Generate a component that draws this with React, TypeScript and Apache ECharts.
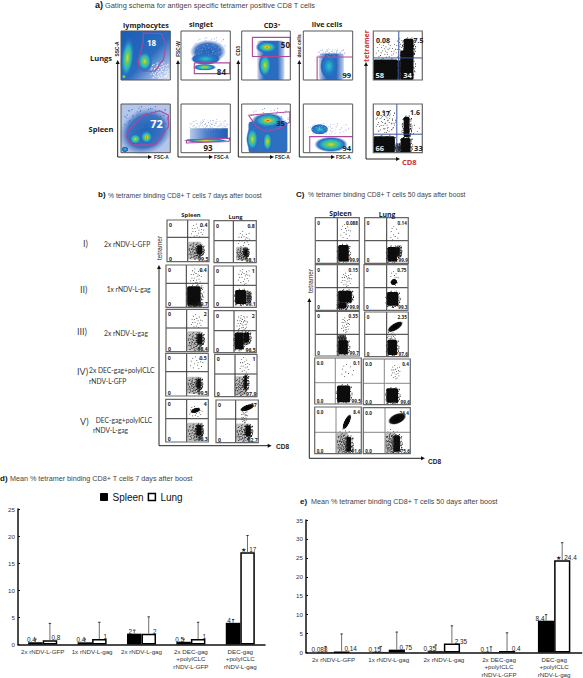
import React, { useEffect, useRef } from "react";
import * as echarts from "echarts";

// ---------- bar chart data ----------
const categories = ["2x rNDV-L-GFP", "1x rNDV-L-gag", "2x rNDV-L-gag", "2x DEC-gag\n+polyICLC\nrNDV-L-GFP", "DEC-gag\n+polyICLC\nrNDV-L-gag"];
const spleen7 = [0.4, 0.4, 2, 0.5, 4];
const lung7 = [0.8, 1, 2, 1, 17];
const spleen7Top = [1.0, 1.0, 2.65, 1.0, 4.6];
const lung7Top = [3.9, 4.1, 5.1, 4.1, 20.1];
const spleen50 = [0.088, 0.15, 0.35, 0.1, 8.4];
const lung50 = [0.14, 0.75, 2.35, 0.4, 24.4];
const spleen50Top = [1.6, 1.6, 2.0, 1.5, 10];
const lung50Top = [4.9, 5.4, 7.05, 5.2, 29];

// ---------- flow plot labels ----------
const b7SpleenTR = ["0.4", "0.4", "2", "0.5", "4"];
const b7SpleenBR = ["99.5", "99.7", "98.4", "99.5", "96.3"];
const b7LungTR = ["0.8", "1", "2", "1", "17"];
const b7LungBR = ["98.1", "99.1", "96.5", "97.9", "82.7"];
const c50SpleenTR = ["0.088", "0.15", "0.35", "0.1", "8.4"];
const c50SpleenBR = ["99.9", "99.9", "99.7", "99.5", "91.6"];
const c50LungTR = ["0.14", "0.75", "2.35", "0.4", "24.4"];
const c50LungBR = ["99.9", "99.3", "97.6", "99.6", "75.6"];

// hand-placed speckle offsets for the sparse parts of dot plots
const SPECKLE = [
  [-0.8, -0.3], [-0.5, 0.7], [-0.2, -0.9], [0.1, 0.3], [0.4, -0.6], [0.7, 0.5], [0.9, -0.1], [-0.9, 0.4],
  [-0.6, -0.7], [-0.3, 0.1], [0, -0.4], [0.3, 0.8], [0.6, -0.2], [0.2, -0.1], [-0.1, 0.6], [0.5, 0.2],
  [-0.4, -0.3], [-0.7, 0.1], [0.8, -0.7], [0.05, 0.9], [-0.25, -0.55], [0.35, -0.25], [0.15, 0.55], [-0.45, 0.35],
  [0.55, 0.65], [-0.15, -0.15], [0.25, -0.75], [-0.65, 0.8], [0.75, 0.15], [-0.05, 0.15],
];

const SANS = "Liberation Sans";
const OPEN = "Open Sans";
const LATO = "Lato";
const MAG = "#b0479a";

const G: any[] = [];

function T(text: string, x: number, y: number, o: any = {}) {
  G.push({
    type: "text", x, y, rotation: o.rot || 0, z: 50, silent: true,
    style: {
      text, fontSize: o.size || 6.5, fontFamily: o.font || SANS, fontWeight: o.weight || "normal",
      fill: o.fill || "#444", textAlign: o.align || "left", textVerticalAlign: "middle", verticalAlign: "middle",
    },
  });
}
function line(pts: number[][], stroke = "#222", w = 1, z = 20) {
  G.push({ type: "polyline", z, silent: true, shape: { points: pts }, style: { stroke, lineWidth: w, fill: "none" } });
}
function arrowAxes(x: number, yTop: number, yBot: number, xEnd: number, w = 1) {
  line([[x, yTop + 3], [x, yBot], [xEnd - 3, yBot]], "#222", w);
  G.push({ type: "polygon", z: 21, silent: true, shape: { points: [[x, yTop], [x - 2, yTop + 4], [x + 2, yTop + 4]] }, style: { fill: "#111" } });
  G.push({ type: "polygon", z: 21, silent: true, shape: { points: [[xEnd, yBot], [xEnd - 4, yBot - 2], [xEnd - 4, yBot + 2]] }, style: { fill: "#111" } });
}
function frame(b: number[], stroke = "#555", w = 1) {
  G.push({ type: "rect", z: 30, silent: true, shape: { x: b[0], y: b[1], width: b[2] - b[0], height: b[3] - b[1] }, style: { stroke, lineWidth: w, fill: "none" } });
}
const JET = [
  { offset: 0, color: "#e4261c" }, { offset: 0.12, color: "#f6c522" }, { offset: 0.28, color: "#74c94a" },
  { offset: 0.48, color: "#27b9c6" }, { offset: 0.75, color: "#2a6cc0" }, { offset: 1, color: "rgba(42,108,192,0)" },
];
const GREEN = [
  { offset: 0, color: "#d9d83a" }, { offset: 0.25, color: "#6fca50" }, { offset: 0.5, color: "#27b9c6" },
  { offset: 0.78, color: "#2a6cc0" }, { offset: 1, color: "rgba(42,108,192,0)" },
];
const CYAN = [
  { offset: 0, color: "#35c3c8" }, { offset: 0.5, color: "#1f80c6" }, { offset: 0.85, color: "#2a66bc" }, { offset: 1, color: "rgba(42,108,192,0)" },
];
const BLUE = [
  { offset: 0, color: "#1e62b6" }, { offset: 0.7, color: "#3f74c2" }, { offset: 1, color: "rgba(110,140,210,0)" },
];
function blob(b: number[], cx: number, cy: number, rx: number, ry: number, stops: any[], rot = 0) {
  const W = b[2] - b[0], H = b[3] - b[1];
  const x = b[0] + cx * W, y = b[1] + cy * H;
  G.push({
    type: "ellipse", z: 10, silent: true, x, y, rotation: rot,
    shape: { cx: 0, cy: 0, rx: rx * W, ry: ry * H },
    style: { fill: { type: "radial", x: 0.5, y: 0.5, r: 0.5, colorStops: stops } },
  });
}
function fillRect(b: number[], x0: number, y0: number, x1: number, y1: number, fill: any, r = 0, z = 9, opacity = 1) {
  const W = b[2] - b[0], H = b[3] - b[1];
  G.push({
    type: "rect", z, silent: true,
    shape: { x: b[0] + x0 * W, y: b[1] + y0 * H, width: (x1 - x0) * W, height: (y1 - y0) * H, r },
    style: { fill, opacity },
  });
}
function gate(b: number[], pts: number[][], closed = true) {
  const W = b[2] - b[0], H = b[3] - b[1];
  const p = pts.map((q) => [b[0] + q[0] * W, b[1] + q[1] * H]);
  if (closed) p.push(p[0]);
  line(p, MAG, 1.1, 25);
}
function lab(b: number[], text: string, fx: number, fy: number, size = 8, fill = "#222") {
  const W = b[2] - b[0], H = b[3] - b[1];
  T(text, b[0] + fx * W, b[1] + fy * H, { size, fill, weight: "bold", font: OPEN, align: "center" });
}
const SPECKLE_ALL = [
  ...SPECKLE,
  ...SPECKLE.map((d) => [d[1], d[0]]),
  ...SPECKLE.map((d) => [-d[0] * 0.93, d[1] * 0.87]),
];
function speckle(b: number[], cx: number, cy: number, sx: number, sy: number, n = 30, col = "#222", s = 0.8) {
  const W = b[2] - b[0], H = b[3] - b[1];
  SPECKLE_ALL.slice(0, n).forEach((d) => {
    const fx = cx + d[0] * sx, fy = cy + d[1] * sy;
    if (fx < 0.01 || fx > 0.98 || fy < 0.01 || fy > 0.98) return;
    G.push({
      type: "rect", z: 12, silent: true,
      shape: { x: b[0] + fx * W, y: b[1] + fy * H, width: s, height: s },
      style: { fill: col },
    });
  });
}
type Layer = any[];
function dotPlot(b: number[], vx: number, hy: number, tl: string, tr: string, bl: string, br: string, layers: Layer[], gridCol = "#333", fs = 5.2) {
  G.push({ type: "rect", z: 1, silent: true, shape: { x: b[0], y: b[1], width: b[2] - b[0], height: b[3] - b[1] }, style: { fill: "#fff" } });
  layers.forEach((l) => {
    const k = l[0];
    if (k === "s") {
      fillRect(b, l[1], l[2], l[3], l[4], "#b0b0b0", 1.5, 9, 0.8);
      speckle(b, (l[1] + l[3]) / 2, (l[2] + l[4]) / 2, (l[3] - l[1]) / 2, (l[4] - l[2]) / 2, 90, "#1a1a1a", 0.8);
    }
    if (k === "d") {
      fillRect(b, l[1], l[2], l[3], l[4], "#0c0c0c", 1.5, 11);
      speckle(b, (l[1] + l[3]) / 2, (l[2] + l[4]) / 2, (l[3] - l[1]) / 2 + 0.05, (l[4] - l[2]) / 2 + 0.05, 90, "#111", 0.9);
    }
    if (k === "e") blob(b, l[1], l[2], l[3], l[4], [{ offset: 0, color: "#000" }, { offset: 0.8, color: "#111" }, { offset: 1, color: "rgba(40,40,40,0.2)" }], l[5] || 0);
    if (k === "c") speckle(b, l[1], l[2], l[3], l[4], l[5] || 30);
  });
  line([[vx, b[1]], [vx, b[3]]], gridCol, 1, 28);
  line([[b[0], hy], [b[2], hy]], gridCol, 1, 28);
  frame(b, "#666", 1.2);
  T(tl, b[0] + 2, b[1] + 5, { size: fs, weight: "bold", fill: "#222", font: OPEN });
  T(bl, b[0] + 2, b[3] - 3, { size: fs, weight: "bold", fill: "#222", font: OPEN });
  T(tr, b[2] - 1.5, b[1] + 5, { size: fs, weight: "bold", fill: "#222", font: OPEN, align: "right" });
  T(br, b[2] - 0.5, b[3] - 3, { size: fs, weight: "bold", fill: "#222", font: OPEN, align: "right" });
}

// ---------- panel a ----------
function panelA() {
  T("a)", 95, 5, { size: 9, weight: "bold", fill: "#111" });
  T("Gating schema for antigen specific tetramer positive CD8 T cells", 105, 5, { size: 7.4 });
  const heads: [string, number, number][] = [["lymphocytes", 146, 25], ["singlet", 201, 24], ["live cells", 327, 24]];
  heads.forEach((h) => T(h[0], h[1], h[2], { size: 7.2, weight: "bold", font: OPEN, align: "center", fill: "#222" }));
  T("CD3⁺", 272, 25, { size: 7.2, weight: "bold", font: OPEN, align: "center", fill: "#222" });
  T("Lungs", 101, 58, { size: 7.5, weight: "bold", font: OPEN, align: "center", fill: "#222" });
  T("Spleen", 101, 129, { size: 7.5, weight: "bold", font: OPEN, align: "center", fill: "#222" });

  const y1 = [31, 80], y2 = [104, 152.7];
  const A1 = [121, y1[0], 170.3, y1[1]], A2 = [121, y2[0], 170.3, y2[1]];
  const B1 = [181, y1[0], 230.3, y1[1]], B2 = [181, y2[0], 230.3, y2[1]];
  const C1 = [241.7, y1[0], 290.3, y1[1]], C2 = [241.7, y2[0], 290.3, y2[1]];
  const D1 = [303.3, y1[0], 352.7, y1[1]], D2 = [303.3, y2[0], 352.7, y2[1]];
  const E1 = [373.3, y1[0], 422.3, y1[1]], E2 = [373.3, y2[0], 422.3, y2[1]];

  // lymphocytes
  fillRect(A1, 0, 0, 1, 1, { type: "linear", x: 0, y: 0, x2: 1, y2: 1, colorStops: [{ offset: 0, color: "#1a5cb3" }, { offset: 0.55, color: "#2a6cc0" }, { offset: 0.78, color: "#8fabdf" }, { offset: 1, color: "#eef2fa" }] });
  blob(A1, 0.13, 0.55, 0.14, 0.44, GREEN, -0.1);
  blob(A1, 0.48, 0.62, 0.16, 0.22, GREEN);
  blob(A1, 0.06, 0.93, 0.05, 0.06, JET);
  speckle(A1, 0.78, 0.8, 0.2, 0.18, 90, "#ffffff", 0.9);
  gate(A1, [[0.45, 0.04], [0.82, 0.05], [0.91, 0.28], [0.86, 0.58], [0.69, 0.82], [0.38, 0.82], [0.35, 0.62], [0.45, 0.24]]);
  lab(A1, "18", 0.62, 0.23, 8, "#fff");

  fillRect(A2, 0, 0, 1, 1, "#b4c6ea");
  speckle(A2, 0.5, 0.3, 0.48, 0.28, 90, "#3f6fc4", 1);
  blob(A2, 0.5, 0.56, 0.56, 0.46, BLUE, 0.5);
  blob(A2, 0.52, 0.68, 0.14, 0.15, JET);
  blob(A2, 0.29, 0.72, 0.13, 0.12, GREEN);
  blob(A2, 0.08, 0.93, 0.07, 0.06, CYAN);
  gate(A2, [[0.15, 0.54], [0.45, 0.23], [0.79, 0.14], [0.96, 0.23], [0.96, 0.47], [0.69, 0.84], [0.22, 0.84], [0.11, 0.67]]);
  lab(A2, "72", 0.72, 0.4, 11, "#fff");

  // singlet
  blob(B1, 0.55, 0.42, 0.37, 0.24, BLUE);
  blob(B1, 0.5, 0.57, 0.3, 0.12, CYAN);
  blob(B1, 0.48, 0.74, 0.24, 0.07, JET);
  speckle(B1, 0.58, 0.3, 0.34, 0.2, 60, "#8aa4dc", 0.8);
  gate(B1, [[0.27, 0.65], [0.99, 0.65], [0.99, 0.87], [0.27, 0.87]]);
  lab(B1, "84", 0.82, 0.82, 8);

  fillRect(B2, 0.18, 0.5, 0.95, 0.72, { type: "linear", x: 0, y: 0, x2: 1, y2: 0, colorStops: [{ offset: 0, color: "#b9c9ec" }, { offset: 0.45, color: "#4c7cc9" }, { offset: 1, color: "#1d5eb5" }] });
  speckle(B2, 0.55, 0.42, 0.42, 0.12, 90, "#8ca7de", 0.8);
  blob(B2, 0.5, 0.75, 0.46, 0.04, GREEN);
  gate(B2, [[0.11, 0.74], [0.99, 0.7], [0.97, 0.77], [0.11, 0.8]]);
  lab(B2, "93", 0.55, 0.9, 8);

  // CD3
  fillRect(C1, 0.32, 0.2, 0.88, 1, { type: "linear", x: 0, y: 0, x2: 1, y2: 0, colorStops: [{ offset: 0, color: "rgba(60,100,190,0.25)" }, { offset: 0.25, color: "#2a6cc0" }, { offset: 0.75, color: "#2a6cc0" }, { offset: 1, color: "rgba(60,100,190,0.25)" }] }, 3);
  blob(C1, 0.52, 0.33, 0.24, 0.13, JET);
  blob(C1, 0.48, 0.7, 0.14, 0.26, GREEN);
  gate(C1, [[0.22, 0.13], [1, 0.13], [1, 0.52], [0.22, 0.52]]);
  lab(C1, "50", 0.9, 0.28, 8);

  fillRect(C2, 0.14, 0.36, 0.94, 1, "#2f6fc2", 3);
  speckle(C2, 0.55, 0.3, 0.44, 0.24, 60, "#5c82cc", 0.8);
  blob(C2, 0.54, 0.34, 0.34, 0.16, JET);
  blob(C2, 0.22, 0.72, 0.13, 0.26, GREEN);
  blob(C2, 0.53, 0.77, 0.11, 0.23, JET.slice(1).map((s, i) => ({ offset: i === 0 ? 0 : s.offset, color: s.color })));
  gate(C2, [[0.14, 0.23], [0.99, 0.16], [0.99, 0.37], [0.78, 0.5], [0.51, 0.57], [0.31, 0.47]]);
  lab(C2, "35", 0.8, 0.4, 7.5);

  // live cells
  fillRect(D1, 0.32, 0.46, 0.82, 1, { type: "linear", x: 0, y: 0, x2: 1, y2: 0, colorStops: [{ offset: 0, color: "rgba(60,100,190,0.3)" }, { offset: 0.3, color: "#2a6cc0" }, { offset: 0.7, color: "#2a6cc0" }, { offset: 1, color: "rgba(60,100,190,0.3)" }] }, 3);
  blob(D1, 0.52, 0.72, 0.18, 0.27, CYAN);
  speckle(D1, 0.56, 0.45, 0.3, 0.1, 60, "#8aa4dc", 0.8);
  gate(D1, [[0.28, 1], [0.28, 0.53], [1, 0.53]], false);
  lab(D1, "99", 0.88, 0.9, 7.5);

  speckle(D2, 0.5, 0.5, 0.45, 0.12, 60, "#a8bae4", 0.8);
  blob(D2, 0.33, 0.52, 0.18, 0.11, CYAN);
  blob(D2, 0.56, 0.83, 0.34, 0.16, GREEN);
  gate(D2, [[0.13, 1], [0.13, 0.67], [1, 0.67]], false);
  lab(D2, "94", 0.88, 0.9, 7.5);

  [A1, A2, B1, B2, C1, C2, D1, D2].forEach((b) => frame(b));

  // tetramer
  dotPlot(E1, 373.3 + 0.52 * 49, 31 + 0.55 * 49, "", "", "", "", [
    ["d", 0, 0.58, 0.5, 1], ["d", 0.55, 0.4, 0.82, 1], ["d", 0.62, 0.16, 0.82, 0.5], ["d", 0.5, 0.6, 0.55, 1],
    ["c", 0.25, 0.38, 0.22, 0.16], ["c", 0.55, 0.35, 0.1, 0.22],
  ], "#3a55a0");
  lab(E1, "0.08", 0.2, 0.2, 7);
  lab(E1, "7.5", 0.92, 0.19, 7);
  lab(E1, "58", 0.13, 0.9, 7.5, "#eee");
  lab(E1, "34", 0.7, 0.9, 7.5, "#eee");

  dotPlot(E2, 373.3 + 0.48 * 49, 104 + 0.62 * 48.7, "", "", "", "", [
    ["d", 0, 0.66, 0.44, 1], ["d", 0.56, 0.7, 0.76, 1], ["d", 0.62, 0.26, 0.74, 0.68], ["s", 0.44, 0.8, 0.58, 1],
    ["c", 0.25, 0.35, 0.22, 0.25, 60], ["c", 0.75, 0.5, 0.2, 0.12, 12],
  ], "#3a55a0");
  lab(E2, "0.17", 0.2, 0.2, 7);
  lab(E2, "1.6", 0.85, 0.17, 7);
  lab(E2, "66", 0.13, 0.9, 7.5, "#eee");
  lab(E2, "33", 0.92, 0.9, 7.5);

  arrowAxes(117.7, 60, 157, 152);
  arrowAxes(178, 60, 157, 213);
  arrowAxes(238.3, 60, 157, 274);
  arrowAxes(299.3, 60, 157, 335);
  arrowAxes(366, 62, 159, 400);
  ([[154, "FSC-A"], [214, "FSC-A"], [275, "FSC-A"], [336, "FSC-A"]] as [number, string][]).forEach((f) =>
    T(f[1], f[0], 157, { size: 4.8, weight: "bold", fill: "#222" }));
  T("SSC-A", 117.5, 49, { size: 4.8, weight: "bold", fill: "#222", rot: Math.PI / 2, align: "center" });
  T("FSC-W", 178, 49, { size: 4.8, weight: "bold", fill: "#222", rot: Math.PI / 2, align: "center" });
  T("CD3", 238.5, 51, { size: 4.8, weight: "bold", fill: "#222", rot: Math.PI / 2, align: "center" });
  T("dead cells", 299.5, 46, { size: 4.8, weight: "bold", fill: "#222", rot: Math.PI / 2, align: "center" });
  T("tetramer", 366, 46, { size: 7, weight: "bold", fill: "#d0312d", font: OPEN, rot: Math.PI / 2, align: "center" });
  T("CD8", 402, 162, { size: 7.5, weight: "bold", fill: "#d0312d", font: OPEN });
}

// ---------- panel b ----------
function panelB() {
  T("b)", 98, 194, { size: 8, weight: "bold", fill: "#111" });
  T("% tetramer binding CD8+ T cells 7 days after boost", 108, 195, { size: 6.8 });
  T("Spleen", 191, 215, { size: 5.8, weight: "bold", font: OPEN, align: "center", fill: "#222" });
  T("Lung", 235.5, 217, { size: 5.8, weight: "bold", font: OPEN, align: "center", fill: "#222" });
  const spleenBoxes = [
    [167, 220, 209, 261.7, 187.7, 237.3], [166, 265, 208.3, 307.3, 186.3, 283.3], [166, 309.3, 208.3, 351.7, 186.7, 328],
    [165.7, 353.3, 208.3, 396, 186.7, 371.7], [165.7, 399.3, 208.3, 442, 186.7, 418.7],
  ];
  const lungBoxes = [
    [214, 220.7, 256.3, 262.7, 233.3, 240.7], [214, 266, 256.3, 307.3, 233.3, 285.3], [214, 310.7, 256.3, 352.7, 234, 330.7],
    [214.7, 354.3, 257, 396.7, 235, 374], [216, 400, 258.3, 442.7, 235.7, 419],
  ];
  const spleenLayers: Layer[][] = [
    [["s", 0.5, 0.52, 0.82, 0.95], ["d", 0.72, 0.62, 0.84, 0.82], ["c", 0.72, 0.25, 0.16, 0.18, 18]],
    [["d", 0.5, 0.5, 0.82, 0.95], ["s", 0.5, 0.9, 0.85, 1], ["c", 0.7, 0.28, 0.14, 0.22, 24], ["c", 0.85, 0.65, 0.04, 0.2, 12]],
    [["s", 0.5, 0.52, 0.85, 0.98], ["d", 0.74, 0.58, 0.86, 0.82], ["c", 0.72, 0.28, 0.14, 0.18, 18]],
    [["s", 0.5, 0.55, 0.82, 0.95], ["d", 0.74, 0.6, 0.82, 0.82], ["c", 0.72, 0.22, 0.16, 0.16, 14]],
    [["s", 0.5, 0.55, 0.88, 0.98], ["d", 0.72, 0.6, 0.84, 0.85], ["e", 0.7, 0.26, 0.12, 0.06, 0.3], ["c", 0.7, 0.28, 0.16, 0.14, 18]],
  ];
  const lungLayers: Layer[][] = [
    [["s", 0.52, 0.62, 0.8, 0.95], ["d", 0.72, 0.68, 0.78, 0.82], ["c", 0.7, 0.45, 0.15, 0.22, 22]],
    [["d", 0.5, 0.58, 0.76, 0.92], ["s", 0.76, 0.6, 0.88, 0.9], ["c", 0.7, 0.25, 0.15, 0.2, 22]],
    [["d", 0.49, 0.52, 0.7, 0.92], ["d", 0.7, 0.52, 0.83, 0.76], ["c", 0.66, 0.28, 0.14, 0.2, 30]],
    [["s", 0.47, 0.52, 0.76, 0.98], ["d", 0.7, 0.5, 0.76, 0.82], ["c", 0.7, 0.25, 0.12, 0.2, 18]],
    [["s", 0.47, 0.55, 0.82, 0.98], ["d", 0.7, 0.6, 0.82, 0.85], ["e", 0.74, 0.18, 0.18, 0.07, 0.35], ["c", 0.66, 0.38, 0.08, 0.16, 24]],
  ];
  spleenBoxes.forEach((s, i) => dotPlot(s.slice(0, 4), s[4], s[5], "0", b7SpleenTR[i], "0", b7SpleenBR[i], spleenLayers[i]));
  lungBoxes.forEach((s, i) => dotPlot(s.slice(0, 4), s[4], s[5], "0", b7LungTR[i], "0", b7LungBR[i], lungLayers[i]));

  const romans: [string, number, number][] = [["I)", 83, 243], ["II)", 80, 289], ["III)", 77, 331], ["IV)", 77, 371], ["V)", 80, 421]];
  romans.forEach((r) => T(r[0], r[1], r[2], { size: 9, font: LATO, fill: "#444" }));
  const rows: [string, number, number][] = [
    ["2x rNDV-L-GFP", 104, 244], ["1x rNDV-L-gag", 106.7, 289], ["2x rNDV-L-gag", 104, 333],
    ["2x DEC-gag+polyICLC", 89, 370], ["rNDV-L-GFP", 89, 381], ["DEC-gag+polyICLC", 95.7, 420], ["rNDV-L-gag", 93, 430],
  ];
  rows.forEach((r) => T(r[0], r[1], r[2], { size: 6.7, font: LATO, fill: "#333" }));
  arrowAxes(159, 265, 445.7, 271.7);
  T("tetramer", 159, 248, { size: 6.5, rot: Math.PI / 2, align: "center", fill: "#222" });
  T("CD8", 276, 446, { size: 6.5, weight: "bold", fill: "#222" });
}

// ---------- panel c ----------
function panelC() {
  T("C)", 296, 194, { size: 8, weight: "bold", fill: "#111" });
  T("% tetramer binding CD8+ T cells 50 days after boost", 308, 194.5, { size: 6.8 });
  T("Spleen", 340.5, 213, { size: 6.8, weight: "bold", font: OPEN, align: "center", fill: "#222" });
  T("Lung", 387, 214, { size: 6.8, weight: "bold", font: OPEN, align: "center", fill: "#222" });
  const sBoxes = [
    [315.3, 217.7, 359.3, 263.3, 337.3, 240.7], [315.3, 264.7, 359.3, 310.3, 337.3, 287.7], [315.3, 311.3, 359.3, 356, 337.3, 334.3],
    [314.7, 358, 361.3, 404, 335.3, 382.7], [314.7, 407, 361.3, 453.7, 336, 432.3],
  ];
  const lBoxes = [
    [364.7, 217.7, 408.3, 263.3, 386.7, 240.7], [364, 264.7, 408, 310.3, 386.7, 287.7], [364.7, 312, 408.3, 356.7, 386.7, 334.3],
    [363.3, 359, 410.3, 404.7, 384.3, 383.3], [363.3, 407.7, 410.3, 453.7, 385, 432.3],
  ];
  const sLayers: Layer[][] = [
    [["d", 0.52, 0.6, 0.76, 0.96], ["c", 0.68, 0.3, 0.12, 0.18, 14]],
    [["d", 0.52, 0.57, 0.83, 0.83], ["d", 0.52, 0.83, 0.7, 0.96], ["c", 0.7, 0.32, 0.12, 0.16, 22]],
    [["d", 0.52, 0.64, 0.74, 0.96], ["s", 0.5, 0.52, 0.7, 0.65], ["c", 0.68, 0.3, 0.1, 0.18, 24]],
    [["d", 0.48, 0.6, 0.76, 0.96], ["c", 0.7, 0.28, 0.14, 0.16, 10]],
    [["s", 0.46, 0.55, 0.72, 1], ["d", 0.68, 0.64, 0.78, 0.96], ["e", 0.69, 0.32, 0.06, 0.18, -0.45], ["c", 0.62, 0.7, 0.14, 0.26]],
  ];
  const lLayers: Layer[][] = [
    [["d", 0.52, 0.64, 0.74, 0.96], ["d", 0.74, 0.64, 0.8, 0.83], ["c", 0.68, 0.35, 0.1, 0.18, 10]],
    [["d", 0.52, 0.6, 0.78, 0.9], ["e", 0.68, 0.38, 0.08, 0.07, 0.5], ["c", 0.68, 0.3, 0.1, 0.18, 14]],
    [["d", 0.52, 0.62, 0.74, 0.96], ["e", 0.7, 0.33, 0.2, 0.08, 0.55], ["c", 0.6, 0.52, 0.1, 0.1, 18]],
    [["d", 0.49, 0.64, 0.74, 0.96], ["c", 0.68, 0.28, 0.1, 0.16, 20]],
    [["s", 0.46, 0.55, 0.7, 1], ["d", 0.64, 0.6, 0.78, 0.96], ["e", 0.72, 0.24, 0.2, 0.11, 0.4], ["c", 0.6, 0.7, 0.14, 0.26]],
  ];
  sBoxes.forEach((s, i) => {
    const o = i < 3 ? "0" : "0.0";
    dotPlot(s.slice(0, 4), s[4], s[5], o, c50SpleenTR[i], o, c50SpleenBR[i], sLayers[i], i < 3 ? "#333" : "#888", 4.6);
  });
  lBoxes.forEach((s, i) => {
    const o = i < 3 ? "0" : "0.0";
    dotPlot(s.slice(0, 4), s[4], s[5], o, c50LungTR[i], o, c50LungBR[i], lLayers[i], i < 3 ? "#333" : "#888", 4.6);
  });
  arrowAxes(309.3, 298, 458.3, 425);
  T("tetramer", 310, 281, { size: 6.5, rot: Math.PI / 2, align: "center", fill: "#222" });
  T("CD8", 428, 461, { size: 6.5, weight: "bold", fill: "#222" });
}

function panelTitles() {
  T("d)", 0, 478, { size: 8, weight: "bold", fill: "#111" });
  T("Mean % tetramer binding CD8+ T cells 7 days after boost", 10, 478, { size: 7.2 });
  T("e)", 300, 501.5, { size: 8, weight: "bold", fill: "#111" });
  T("Mean % tetramer binding CD8+ T cells 50 days after boost", 311, 501.5, { size: 7.2 });
}

function errSeries(name: string, gridIndex: number, vals: number[], tops: number[], side: number) {
  return {
    type: "custom", name, xAxisIndex: gridIndex, yAxisIndex: gridIndex, z: 5, silent: true, legendHoverLink: false,
    data: vals.map((v, i) => [i, v, tops[i]]),
    renderItem: (_p: any, api: any) => {
      const base = api.coord([api.value(0), api.value(1)]);
      const top = api.coord([api.value(0), api.value(2)]);
      const off = api.size([1, 0])[0] * 0.146 * side;
      const x = base[0] + off;
      return {
        type: "group",
        children: [
          { type: "line", shape: { x1: x, y1: base[1], x2: x, y2: top[1] }, style: { stroke: "#707070", lineWidth: 1 } },
          { type: "line", shape: { x1: x - 1.2, y1: top[1], x2: x + 1.2, y2: top[1] }, style: { stroke: "#333", lineWidth: 1 } },
        ],
      };
    },
  };
}
function barSeries(name: string, grid: number, vals: number[], color: string, border: number, off: number, star: number) {
  return {
    type: "bar", name, xAxisIndex: grid, yAxisIndex: grid, barWidth: "29.4%", barGap: "0%",
    itemStyle: { color, borderColor: "#000", borderWidth: border },
    data: vals.map((v, i) => i === star
      ? { value: v, label: { formatter: "★  " + v, offset: [off - 5, 1] } }
      : { value: v }),
    label: { show: true, position: "top", distance: 0.5, offset: [off, 1], fontSize: 6.4, fontFamily: SANS, color: "#222", formatter: "{c}" },
  };
}
function xAxisOf(grid: number) {
  return {
    type: "category", gridIndex: grid, data: categories,
    axisLine: { lineStyle: { color: "#111", width: 1.5 } },
    axisTick: { inside: true, length: 2, alignWithLabel: false, lineStyle: { color: "#111" } },
    axisLabel: { interval: 0, fontSize: 6.2, lineHeight: 7.5, margin: 3, color: "#333", fontFamily: SANS },
  };
}
function yAxisOf(grid: number, max: number) {
  return {
    type: "value", gridIndex: grid, min: 0, max, interval: 5,
    axisLine: { show: true, lineStyle: { color: "#111", width: 1.5 } },
    axisTick: { show: true, inside: true, length: 2, lineStyle: { color: "#111" } },
    axisLabel: { fontSize: 6.2, margin: 3, color: "#333", fontFamily: SANS },
    splitLine: { show: false },
  };
}

export default function App() {
  const ref = useRef<HTMLDivElement>(null);
  useEffect(() => {
    G.length = 0;
    panelA();
    panelB();
    panelC();
    panelTitles();
    const chart = echarts.init(ref.current!, undefined, { renderer: "svg" });
    chart.setOption({
      animation: false,
      backgroundColor: "#fff",
      legend: {
        left: 100, top: 492, padding: 0, icon: "rect", itemWidth: 7, itemHeight: 7, itemGap: 4, selectedMode: false,
        textStyle: { fontSize: 10, fontFamily: SANS, color: "#111" },
        data: [
          { name: "Spleen", itemStyle: { color: "#000", borderColor: "#000", borderWidth: 1 } },
          { name: "Lung", itemStyle: { color: "#fff", borderColor: "#000", borderWidth: 1.5 } },
        ],
      },
      grid: [
        { left: 18, top: 509, width: 247, height: 135.5 },
        { left: 306, top: 520, width: 275.7, height: 135.7 },
      ],
      xAxis: [xAxisOf(0), xAxisOf(1)],
      yAxis: [yAxisOf(0, 25), yAxisOf(1, 35)],
      series: [
        barSeries("Spleen", 0, spleen7, "#000", 0, -4, -1),
        barSeries("Lung", 0, lung7, "#fff", 1.5, 6, 4),
        errSeries("spleen error d", 0, spleen7, spleen7Top, -1),
        errSeries("lung error d", 0, lung7, lung7Top, 1),
        barSeries("Spleen", 1, spleen50, "#000", 0, -6, -1),
        barSeries("Lung", 1, lung50, "#fff", 1.5, 9, 4),
        errSeries("spleen error e", 1, spleen50, spleen50Top, -1),
        errSeries("lung error e", 1, lung50, lung50Top, 1),
      ],
      graphic: { elements: G },
    });
    return () => chart.dispose();
  }, []);
  return <div ref={ref} style={{ position: "absolute", left: 0, top: 0, width: 583, height: 678 }} />;
}
